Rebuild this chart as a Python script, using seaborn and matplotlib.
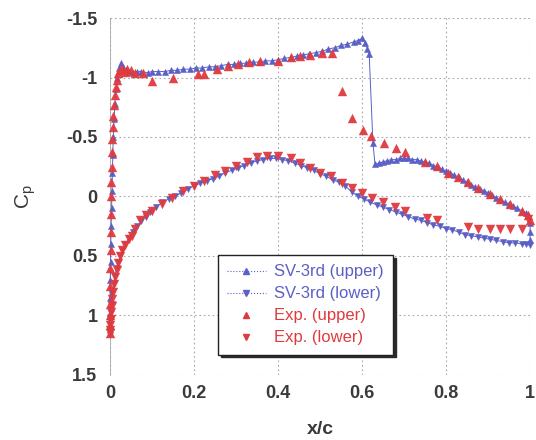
import numpy as np
import pandas as pd
import matplotlib
matplotlib.use("Agg")
import matplotlib.pyplot as plt
import seaborn as sns
from matplotlib.lines import Line2D

# ---- SV-3rd computation, upper surface (x/c, Cp) ----
sv_upper_x = [0.000, 0.0003, 0.0006, 0.001, 0.0015, 0.002, 0.003, 0.004, 0.005, 0.006,
              0.007, 0.008, 0.010, 0.012, 0.015, 0.018, 0.022, 0.027, 0.032, 0.038,
              0.045, 0.055, 0.065, 0.075, 0.090, 0.100, 0.115, 0.130, 0.145, 0.160,
              0.175, 0.190, 0.205, 0.220, 0.235, 0.250, 0.265, 0.280, 0.295, 0.310,
              0.325, 0.340, 0.355, 0.370, 0.385, 0.400, 0.415, 0.430, 0.445, 0.460,
              0.475, 0.490, 0.505, 0.520, 0.535, 0.550, 0.565, 0.580, 0.590, 0.600,
              0.607, 0.613, 0.617, 0.626, 0.631, 0.640, 0.650, 0.660, 0.670, 0.680,
              0.690, 0.700, 0.710, 0.720, 0.730, 0.740, 0.750, 0.760, 0.770, 0.780,
              0.790, 0.800, 0.810, 0.820, 0.830, 0.840, 0.850, 0.860, 0.870, 0.880,
              0.890, 0.900, 0.910, 0.920, 0.930, 0.940, 0.950, 0.960, 0.970, 0.980,
              0.990, 0.995, 1.000, 1.000, 1.000]
sv_upper_cp = [1.12, 0.98, 0.85, 0.70, 0.55, 0.40, 0.25, 0.10, -0.05, -0.20,
               -0.35, -0.50, -0.65, -0.78, -0.90, -1.00, -1.08, -1.12, -1.09, -1.06,
               -1.05, -1.04, -1.05, -1.05, -1.04, -1.05, -1.05, -1.05, -1.06, -1.06,
               -1.07, -1.07, -1.08, -1.08, -1.09, -1.09, -1.10, -1.11, -1.11, -1.12,
               -1.12, -1.13, -1.13, -1.14, -1.14, -1.15, -1.16, -1.17, -1.18, -1.19,
               -1.20, -1.21, -1.22, -1.24, -1.25, -1.27, -1.28, -1.30, -1.31, -1.33,
               -1.29, -1.24, -1.20, -0.45, -0.27, -0.28, -0.29, -0.30, -0.31, -0.31,
               -0.32, -0.32, -0.32, -0.31, -0.31, -0.30, -0.29, -0.28, -0.26, -0.25,
               -0.23, -0.21, -0.20, -0.18, -0.16, -0.14, -0.12, -0.10, -0.08, -0.06,
               -0.05, -0.03, -0.01, 0.01, 0.03, 0.05, 0.06, 0.08, 0.10, 0.12,
               0.14, 0.16, 0.22, 0.30, 0.37]

# ---- SV-3rd computation, lower surface ----
sv_lower_x = [0.000, 0.001, 0.002, 0.004, 0.006, 0.009, 0.012, 0.016, 0.020, 0.025,
              0.030, 0.037, 0.045, 0.055, 0.065, 0.075, 0.085, 0.095, 0.110, 0.125,
              0.140, 0.155, 0.170, 0.185, 0.200, 0.215, 0.230, 0.245, 0.260, 0.275,
              0.290, 0.305, 0.320, 0.335, 0.350, 0.365, 0.380, 0.395, 0.410, 0.425,
              0.440, 0.455, 0.470, 0.485, 0.500, 0.515, 0.530, 0.545, 0.560, 0.575,
              0.590, 0.605, 0.620, 0.635, 0.650, 0.665, 0.680, 0.695, 0.710, 0.725,
              0.740, 0.755, 0.770, 0.785, 0.800, 0.815, 0.830, 0.845, 0.860, 0.875,
              0.890, 0.905, 0.920, 0.935, 0.950, 0.965, 0.980, 0.990, 1.000]
sv_lower_cp = [1.12, 1.05, 0.98, 0.90, 0.82, 0.74, 0.67, 0.60, 0.55, 0.50,
               0.45, 0.40, 0.35, 0.30, 0.25, 0.21, 0.17, 0.13, 0.09, 0.05,
               0.02, 0.00, -0.03, -0.06, -0.09, -0.11, -0.13, -0.15, -0.17, -0.20,
               -0.22, -0.24, -0.26, -0.28, -0.30, -0.31, -0.32, -0.32, -0.31, -0.30,
               -0.28, -0.26, -0.24, -0.22, -0.19, -0.17, -0.14, -0.12, -0.09, -0.04,
               0.00, 0.02, 0.05, 0.07, 0.09, 0.11, 0.13, 0.15, 0.17, 0.19,
               0.20, 0.22, 0.24, 0.25, 0.27, 0.28, 0.30, 0.32, 0.33, 0.34,
               0.35, 0.36, 0.37, 0.38, 0.39, 0.39, 0.40, 0.40, 0.41]

# ---- Experiment, upper surface ----
exp_upper_x = [0.000, 0.000, 0.0005, 0.0005, 0.001, 0.001, 0.0015, 0.002, 0.002, 0.003,
               0.003, 0.004, 0.005, 0.006, 0.007, 0.008, 0.010, 0.012, 0.014, 0.017,
               0.020, 0.025, 0.030, 0.035, 0.040, 0.050, 0.060, 0.080, 0.100, 0.150,
               0.210, 0.225, 0.255, 0.280, 0.305, 0.330, 0.357, 0.400, 0.430, 0.452,
               0.476, 0.505, 0.528, 0.552, 0.576, 0.602, 0.621, 0.652, 0.681, 0.702,
               0.750, 0.778, 0.805, 0.829, 0.852, 0.876, 0.905, 0.929, 0.952, 0.980,
               0.995, 1.000]
exp_upper_cp = [1.15, 1.08, 1.00, 0.90, 0.75, 0.60, 0.45, 0.30, 0.15, 0.00,
                -0.12, -0.25, -0.37, -0.48, -0.58, -0.68, -0.77, -0.85, -0.92, -0.98,
                -1.04, -1.06, -1.07, -1.05, -1.07, -1.06, -1.04, -1.04, -0.97, -1.00,
                -1.03, -1.03, -1.07, -1.10, -1.11, -1.13, -1.14, -1.14, -1.17, -1.18,
                -1.19, -1.21, -1.21, -0.89, -0.66, -0.56, -0.51, -0.45, -0.41, -0.37,
                -0.29, -0.26, -0.20, -0.16, -0.12, -0.07, -0.02, 0.02, 0.06, 0.12,
                0.16, 0.20]

# ---- Experiment, lower surface ----
exp_lower_x = [0.000, 0.0005, 0.001, 0.002, 0.003, 0.004, 0.006, 0.008, 0.010, 0.013,
               0.016, 0.020, 0.025, 0.030, 0.036, 0.045, 0.052, 0.060, 0.071, 0.085,
               0.100, 0.125, 0.148, 0.175, 0.200, 0.225, 0.250, 0.275, 0.300, 0.326,
               0.350, 0.374, 0.400, 0.430, 0.452, 0.476, 0.500, 0.526, 0.552, 0.576,
               0.600, 0.624, 0.650, 0.678, 0.702, 0.755, 0.778, 0.852, 0.876, 0.905,
               0.929, 0.952, 0.980, 0.995]
exp_lower_cp = [1.15, 1.12, 1.08, 1.03, 0.97, 0.92, 0.86, 0.80, 0.74, 0.68,
                0.62, 0.56, 0.50, 0.45, 0.41, 0.36, 0.33, 0.27, 0.20, 0.16,
                0.12, 0.06, 0.01, -0.05, -0.09, -0.13, -0.18, -0.21, -0.26, -0.29,
                -0.33, -0.34, -0.34, -0.32, -0.28, -0.24, -0.20, -0.17, -0.11, -0.07,
                -0.03, 0.01, 0.05, 0.09, 0.12, 0.18, 0.20, 0.26, 0.27, 0.27,
                0.27, 0.27, 0.27, 0.19]

x_ticks = [0, 0.2, 0.4, 0.6, 0.8, 1]
x_tick_labels = ["0", "0.2", "0.4", "0.6", "0.8", "1"]
y_ticks = [-1.5, -1, -0.5, 0, 0.5, 1, 1.5]
y_tick_labels = ["-1.5", "-1", "-0.5", "0", "0.5", "1", "1.5"]

legend_labels = ["SV-3rd (upper)", "SV-3rd (lower)", "Exp. (upper)", "Exp. (lower)"]

BLUE = "#5a60c6"
RED = "#e03a3e"
TEXT = "#3a3a3a"

sns.set_theme(style="white")
plt.rcParams["font.family"] = ["Liberation Sans", "DejaVu Sans"]
plt.rcParams["mathtext.default"] = "regular"

fig = plt.figure(figsize=(5.36, 4.40), dpi=100)
fig.patch.set_facecolor("white")
ax = fig.add_axes([0.205, 0.148, 0.784, 0.811])

sv_up = pd.DataFrame({"x": sv_upper_x, "cp": sv_upper_cp})
sv_lo = pd.DataFrame({"x": sv_lower_x, "cp": sv_lower_cp})
ex_up = pd.DataFrame({"x": exp_upper_x, "cp": exp_upper_cp})
ex_lo = pd.DataFrame({"x": exp_lower_x, "cp": exp_lower_cp})

line_kw = dict(sort=False, estimator=None, color=BLUE, linewidth=0.7,
               markersize=5, markeredgewidth=0.4, markeredgecolor=BLUE,
               clip_on=False, zorder=3)
sns.lineplot(data=sv_up, x="x", y="cp", marker="^", ax=ax, **line_kw)
sns.lineplot(data=sv_lo, x="x", y="cp", marker="v", ax=ax, **line_kw)

sct_kw = dict(color=RED, s=46, linewidth=0, clip_on=False, zorder=4, alpha=0.95)
sns.scatterplot(data=ex_up, x="x", y="cp", marker="^", ax=ax, **sct_kw)
sns.scatterplot(data=ex_lo, x="x", y="cp", marker="v", ax=ax, **sct_kw)

ax.set_xlim(0, 1)
ax.set_ylim(1.5, -1.5)
ax.set_xticks(x_ticks)
ax.set_xticklabels(x_tick_labels)
ax.set_yticks(y_ticks)
ax.set_yticklabels(y_tick_labels)
ax.tick_params(axis="both", length=0, labelsize=13, labelcolor=TEXT)
ax.tick_params(axis="x", pad=7)
ax.tick_params(axis="y", pad=9)
for lbl in ax.get_xticklabels() + ax.get_yticklabels():
    lbl.set_fontweight("bold")

ax.grid(True, color="#a8a8a8", linestyle=(0, (1.5, 2.5)), linewidth=0.8)
for side in ["top", "right", "bottom"]:
    ax.spines[side].set_visible(False)
ax.spines["left"].set_color("#aaaaaa")
ax.spines["left"].set_linewidth(0.6)

ax.set_xlabel("x/c", fontsize=14, fontweight="bold", color=TEXT, labelpad=14)
ax.set_ylabel("C$_p$", fontsize=15, color=TEXT, labelpad=20)

handles = [
    Line2D([], [], color=BLUE, linestyle=":", linewidth=0.8, marker="^", markersize=4),
    Line2D([], [], color=BLUE, linestyle=":", linewidth=0.8, marker="v", markersize=4),
    Line2D([], [], color=RED, linestyle="none", marker="^", markersize=5),
    Line2D([], [], color=RED, linestyle="none", marker="v", markersize=5),
]
leg = ax.legend(handles, legend_labels, loc="upper left",
                bbox_to_anchor=(0.407, 0.420), bbox_transform=fig.transFigure,
                fontsize=12, frameon=True, fancybox=False,
                shadow={"color": "#2a2a2a", "alpha": 1.0},
                edgecolor="#222222", framealpha=1, borderpad=0.55,
                labelspacing=0.42, handlelength=2.3, handletextpad=0.5,
                borderaxespad=0)
leg.get_frame().set_linewidth(1.0)
for txt, c in zip(leg.get_texts(), [BLUE, BLUE, RED, RED]):
    txt.set_color(c)

fig.savefig("out.png", dpi=100, facecolor="white")
